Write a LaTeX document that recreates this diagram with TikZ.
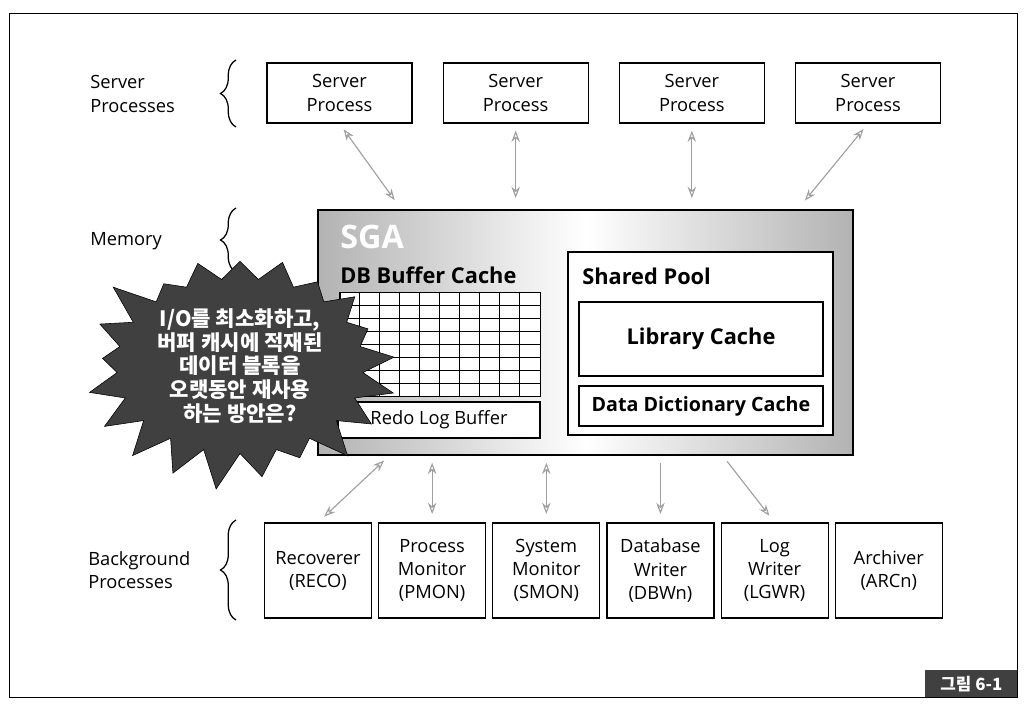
\documentclass[tikz,border=0pt]{standalone}
\usepackage{fontspec}
\setmainfont{Open Sans}
\newfontfamily\kr{Noto Sans CJK KR}
\usetikzlibrary{positioning, arrows.meta, shapes.symbols, decorations.pathreplacing}
\tikzset{
>={Stealth[open, length=8pt, width=6pt]}, % hollow arrow heads
node distance=0.75cm, % gap between the server boxes
box/.style={draw, line width=0.8pt, fill=white, align=center}, % every plain box
srvproc/.style={box, minimum width=3.625cm, minimum height=1.5cm}, % server process boxes
bgproc/.style={box, minimum width=2.675cm, minimum height=2.375cm}, % background process boxes
lbl/.style={anchor=west, inner sep=0pt, align=left}, % free texts, placed by their left end
title/.style={font=\fontsize{15.5}{18}\selectfont\bfseries}, % bold titles inside the SGA
link/.style={draw=gray!75, line width=0.8pt, shorten <=5pt, shorten >=6pt}, % grey arrows
curly/.style={decorate, decoration={brace, amplitude=11pt}, line width=0.9pt}, % braces on the left
}

\begin{document}
\begin{tikzpicture}[x=0.025cm, y=0.025cm, font=\fontsize{13}{16.4}\selectfont]
    \useasboundingbox (0,0) rectangle (1032,-710);
    \node[draw, line width=0.8pt, minimum width=25.175cm, minimum height=17.075cm] (frame) at (513.5,-355.5) {};
    \node[anchor=south east, fill=black!75, text=white, minimum width=2.3cm, minimum height=0.675cm,
          font=\kr\bfseries\fontsize{12}{14}\selectfont] (fig) at (frame.south east) {그림 6-1};

    % server processes
    \node[srvproc] (srv1) at (339.5,-93) {Server\\Process};
    \node[srvproc, right=of srv1] (srv2) {Server\\Process};
    \node[srvproc, right=of srv2] (srv3) {Server\\Process};
    \node[srvproc, right=of srv3] (srv4) {Server\\Process};
    \node[lbl] (srvlbl) at (90,-94) {Server\\Processes};
    \draw[curly] (236,-127) -- (236,-60);

    % memory
    \node[draw, line width=1pt, left color=gray!60, right color=gray!60, middle color=white,
          minimum width=13.375cm, minimum height=6.125cm] (sga) at (585.5,-332.5) {};
    \node[lbl, text=white, font=\fontsize{23}{26}\selectfont\bfseries] (sgalbl) at (340,-237) {SGA};
    \node[lbl, title] (dbbc) at (340,-275) {DB Buffer Cache};
    \node[draw, fill=white, inner sep=0pt, minimum width=5cm, minimum height=2.6cm] (cachegrid) at (440,-344) {};
    \draw[shift={(cachegrid.south west)}] (0,0) grid[xstep=0.5cm, ystep=0.325cm] (200,104);
    \node[box, minimum width=5.05cm, minimum height=0.9cm] (redo) at (439,-420) {Redo Log Buffer};
    \node[box, minimum width=6.625cm, minimum height=4.575cm] (pool) at (700.5,-343.5) {};
    \node[lbl, title] (poollbl) at (582,-276) {Shared Pool};
    \node[box, title, minimum width=6.1cm, minimum height=1.85cm] (libc) at (701,-339) {Library Cache};
    \node[box, font=\fontsize{14}{16}\selectfont\bfseries, minimum width=6.1cm, minimum height=1cm] (ddc) at (701,-406) {Data Dictionary Cache};
    \node[lbl] (memlbl) at (90,-241) {Memory};
    \draw[curly] (236,-272) -- (236,-208);

    % background processes
    \node[bgproc] (reco) at (318,-570.5) {Recoverer\\(RECO)};
    \node[bgproc, right=0.15cm of reco] (pmon) {Process\\Monitor\\(PMON)};
    \node[bgproc, right=0.15cm of pmon] (smon) {System\\Monitor\\(SMON)};
    \node[bgproc, right=0.15cm of smon] (dbwn) {Database\\Writer\\(DBWn)};
    \node[bgproc, right=0.15cm of dbwn] (lgwr) {Log\\Writer\\(LGWR)};
    \node[bgproc, right=0.15cm of lgwr] (arcn) {Archiver\\(ARCn)};
    \node[lbl] (bglbl) at (88,-570) {Background\\Processes};
    \draw[curly] (236,-620) -- (236,-520);

    % arrows
    \draw[link, <->, shorten >=8pt] (srv1.south) -- ([xshift=2.1cm]sga.north west);
    \draw[link, <->, shorten >=8pt] (srv2.south) -- (srv2.south |- sga.north);
    \draw[link, <->, shorten >=8pt] (srv3.south) -- (srv3.south |- sga.north);
    \draw[link, <->, shorten >=8pt] (srv4.south) -- ([xshift=-1.4cm]sga.north east);
    \draw[link, <->] ([xshift=1.8cm]sga.south west) -- (reco.north);
    \draw[link, <->] (pmon.north |- sga.south) -- (pmon.north);
    \draw[link, <->] (smon.north |- sga.south) -- (smon.north);
    \draw[link, ->] (dbwn.north |- sga.south) -- (dbwn.north);
    \draw[link, ->] ([xshift=-3.275cm]sga.south east) -- (lgwr.north);

    % question
    \node[starburst, starburst points=21, starburst point height=1cm, random starburst=42,
          draw, fill=black!75, text=white, align=center, minimum width=7.25cm, minimum height=4.3cm,
          font=\kr\bfseries\fontsize{15}{16.8}\selectfont] (idea) at (240,-366)
          {I/O를 최소화하고,\\버퍼 캐시에 적재된\\데이터 블록을\\오랫동안 재사용\\하는 방안은?};
\end{tikzpicture}
\end{document}
